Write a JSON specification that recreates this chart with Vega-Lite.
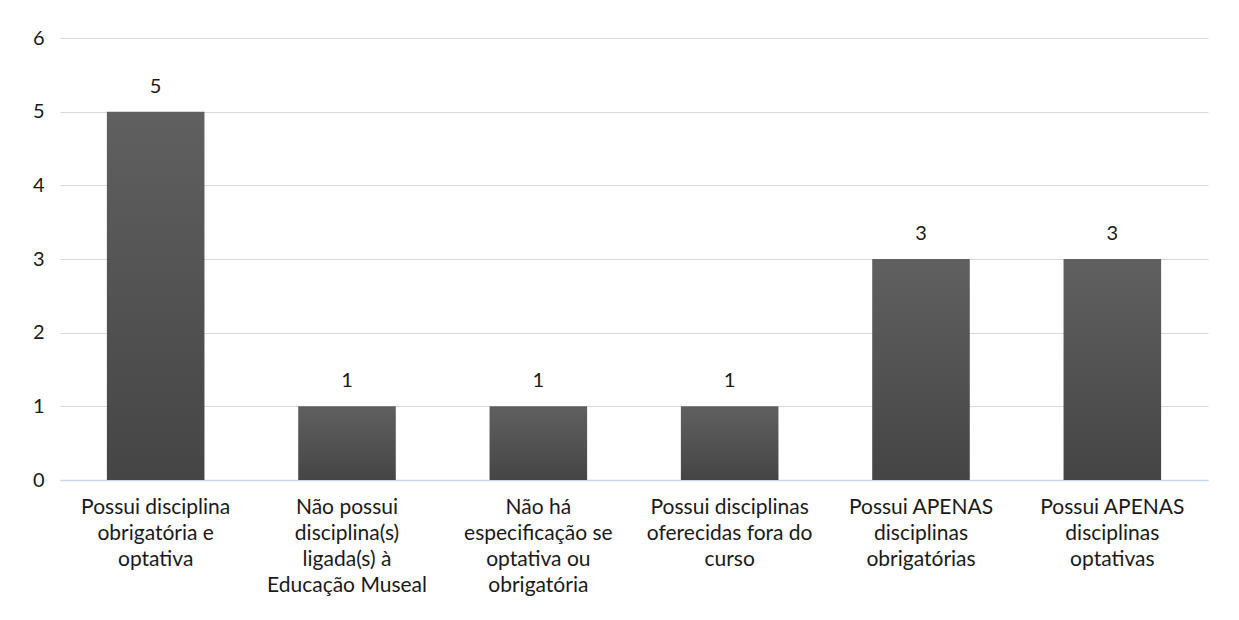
{
  "$schema": "https://vega.github.io/schema/vega-lite/v6.json",
  "width": 1148,
  "height": 442,
  "autosize": {"type": "none"},
  "padding": {"left": 60, "top": 38, "right": 31, "bottom": 140},
  "background": "white",
  "config": {
    "view": {"stroke": null},
    "font": "Lato",
    "text": {"font": "Lato"}
  },
  "data": {
    "values": [
      {"categoria": "Possui disciplina|obrigatória e|optativa", "valor": 5},
      {"categoria": "Não possui|disciplina(s)|ligada(s) à|Educação Museal", "valor": 1},
      {"categoria": "Não há|especificação se|optativa ou|obrigatória", "valor": 1},
      {"categoria": "Possui disciplinas|oferecidas fora do|curso", "valor": 1},
      {"categoria": "Possui APENAS|disciplinas|obrigatórias", "valor": 3},
      {"categoria": "Possui APENAS|disciplinas|optativas", "valor": 3}
    ]
  },
  "encoding": {
    "x": {
      "field": "categoria",
      "type": "nominal",
      "sort": null,
      "scale": {"paddingInner": 0.49, "paddingOuter": 0.245},
      "axis": {
        "title": null,
        "labelAngle": 0,
        "labelExpr": "split(datum.label, '|')",
        "labelFontSize": 21,
        "labelLineHeight": 26,
        "labelColor": "#1a1a1a",
        "labelPadding": 16,
        "labelBaseline": "top",
        "labelLimit": 240,
        "ticks": false,
        "domainColor": "#c9d7ea",
        "domainWidth": 1.5
      }
    },
    "y": {
      "field": "valor",
      "type": "quantitative",
      "scale": {"domain": [0, 6]},
      "axis": {
        "title": null,
        "values": [0, 1, 2, 3, 4, 5, 6],
        "domain": false,
        "ticks": false,
        "labelFontSize": 20,
        "labelColor": "#1a1a1a",
        "labelPadding": 16,
        "gridColor": "#d9d9d9",
        "gridWidth": 1
      }
    }
  },
  "layer": [
    {
      "mark": {
        "type": "bar",
        "color": {
          "gradient": "linear",
          "x1": 0, "y1": 0, "x2": 0, "y2": 1,
          "stops": [
            {"offset": 0, "color": "#606060"},
            {"offset": 1, "color": "#454545"}
          ]
        }
      }
    },
    {
      "mark": {
        "type": "text",
        "baseline": "middle",
        "dy": -25,
        "fontSize": 20,
        "color": "#1a1a1a"
      },
      "encoding": {"text": {"field": "valor", "type": "quantitative"}}
    }
  ]
}
